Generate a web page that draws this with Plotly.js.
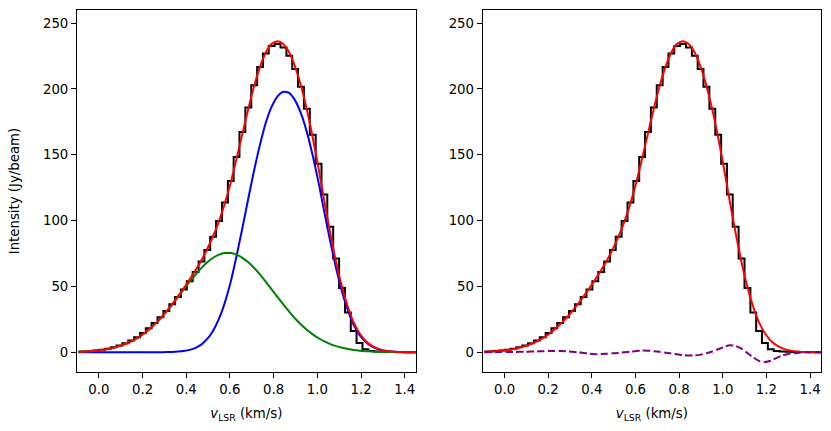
<!DOCTYPE html>
<html>
<head>
<meta charset="utf-8">
<script src="https://cdn.plot.ly/plotly-3.0.1.min.js"></script>
<style>html,body{margin:0;padding:0;background:#fff;}</style>
</head>
<body>
<div id="chart" style="width:831px;height:431px;"></div>
<script>
// Channel velocities (km/s)
var velocity = [-0.093, -0.066, -0.040, -0.013, 0.014, 0.041, 0.068, 0.094, 0.121, 0.148,
  0.175, 0.202, 0.228, 0.255, 0.282, 0.309, 0.336, 0.362, 0.389, 0.416,
  0.443, 0.470, 0.496, 0.523, 0.550, 0.577, 0.604, 0.630, 0.657, 0.684,
  0.711, 0.738, 0.764, 0.791, 0.818, 0.845, 0.872, 0.898, 0.925, 0.952,
  0.979, 1.006, 1.032, 1.059, 1.086, 1.113, 1.140, 1.166, 1.193, 1.220,
  1.247, 1.274, 1.300, 1.327, 1.354, 1.381, 1.408, 1.434, 1.461];

// Observed spectrum (Jy/beam)
var intensity = [0.38, 0.62, 0.94, 1.38, 1.95, 2.72, 3.72, 5.06, 6.75, 8.89,
  11.49, 14.60, 18.15, 22.15, 26.56, 31.31, 36.48, 41.95, 47.65, 53.89,
  61.02, 68.92, 77.66, 87.69, 99.66, 113.78, 130.19, 148.37, 167.30, 185.86,
  202.77, 216.71, 226.88, 232.66, 234.12, 231.54, 225.19, 215.23, 201.71, 184.93,
  165.23, 143.25, 119.89, 95.29, 71.21, 48.87, 30.22, 16.17, 7.00, 2.29,
  0.87, 0.53, 0.31, 0.16, 0.14, 0.12, 0.05, 0.03, 0.02];

// Total fit
var fitTotal = [0.38, 0.57, 0.84, 1.23, 1.75, 2.47, 3.42, 4.66, 6.25, 8.24,
  10.69, 13.65, 17.15, 21.20, 25.81, 30.91, 36.48, 42.45, 48.75, 55.39,
  62.42, 70.02, 78.46, 88.19, 99.66, 113.28, 129.19, 147.07, 166.10, 185.06,
  202.47, 217.01, 227.78, 234.26, 236.32, 234.04, 227.59, 217.03, 202.51, 184.33,
  162.93, 139.25, 114.59, 90.49, 68.41, 49.47, 34.22, 22.67, 14.40, 8.79,
  5.17, 2.93, 1.61, 0.86, 0.44, 0.22, 0.11, 0.05, 0.02];

// Component 1 (blue)
var component1 = [0, 0, 0, 0, 0, 0, 0, 0, 0, 0,
  0, 0, 0.01, 0.02, 0.05, 0.11, 0.23, 0.48, 0.96, 1.83,
  3.37, 5.96, 10.10, 16.41, 25.52, 37.93, 53.85, 72.95, 94.37, 116.76,
  138.48, 158.04, 174.30, 186.55, 194.44, 197.88, 196.87, 191.35, 181.39, 167.24,
  149.33, 128.60, 106.38, 84.27, 63.77, 46.06, 31.76, 20.92, 13.18, 7.95,
  4.60, 2.55, 1.36, 0.70, 0.34, 0.16, 0.07, 0.03, 0.01];

// Component 2 (green)
var component2 = [0.38, 0.57, 0.84, 1.23, 1.75, 2.47, 3.42, 4.66, 6.25, 8.24,
  10.69, 13.65, 17.14, 21.18, 25.76, 30.80, 36.25, 41.97, 47.79, 53.56,
  59.05, 64.06, 68.36, 71.78, 74.14, 75.35, 75.34, 74.12, 71.73, 68.30,
  63.99, 58.97, 53.48, 47.71, 41.88, 36.16, 30.72, 25.68, 21.12, 17.09,
  13.60, 10.65, 8.21, 6.22, 4.64, 3.41, 2.46, 1.75, 1.22, 0.84,
  0.57, 0.38, 0.25, 0.16, 0.10, 0.06, 0.04, 0.02, 0.01];

// Residual (purple dashed)
var residual = [0.00, 0.05, 0.10, 0.15, 0.20, 0.25, 0.30, 0.40, 0.50, 0.65,
  0.80, 0.95, 1.00, 0.95, 0.75, 0.40, 0.00, -0.50, -1.10, -1.50,
  -1.40, -1.10, -0.80, -0.50, 0.00, 0.50, 1.00, 1.30, 1.20, 0.80,
  0.30, -0.30, -0.90, -1.60, -2.20, -2.50, -2.40, -1.80, -0.80, 0.60,
  2.30, 4.00, 5.30, 4.80, 2.80, -0.60, -4.00, -6.50, -7.40, -6.50,
  -4.30, -2.40, -1.30, -0.70, -0.30, -0.10, -0.06, -0.02, 0.00];

var xTickVals = [0, 0.2, 0.4, 0.6, 0.8, 1.0, 1.2, 1.4];
var xTickText = ['0.0', '0.2', '0.4', '0.6', '0.8', '1.0', '1.2', '1.4'];
var yTickVals = [0, 50, 100, 150, 200, 250];
var yTickText = ['0', '50', '100', '150', '200', '250'];

var xLabel = '<i>v</i><sub>LSR</sub> (km/s)';
var yLabel = 'Intensity (Jy/beam)';

var FS = 13.3;
var LW = 2;
var traces = [
  {x: velocity, y: intensity, xaxis: 'x', yaxis: 'y', mode: 'lines', line: {shape: 'hvh', color: 'black', width: LW}},
  {x: velocity, y: component1, xaxis: 'x', yaxis: 'y', mode: 'lines', line: {shape: 'spline', smoothing: 0.6, color: '#0000ff', width: LW}},
  {x: velocity, y: component2, xaxis: 'x', yaxis: 'y', mode: 'lines', line: {shape: 'spline', smoothing: 0.6, color: '#008000', width: LW}},
  {x: velocity, y: fitTotal, xaxis: 'x', yaxis: 'y', mode: 'lines', line: {shape: 'spline', smoothing: 0.6, color: '#ff0000', width: LW}},
  {x: velocity, y: intensity, xaxis: 'x2', yaxis: 'y2', mode: 'lines', line: {shape: 'hvh', color: 'black', width: LW}},
  {x: velocity, y: fitTotal, xaxis: 'x2', yaxis: 'y2', mode: 'lines', line: {shape: 'spline', smoothing: 0.6, color: '#ff0000', width: LW}},
  {x: velocity, y: residual, xaxis: 'x2', yaxis: 'y2', mode: 'lines', line: {shape: 'spline', smoothing: 0.6, color: '#800080', width: LW, dash: '7.4px,3.2px'}}
];

function xAxis(domain, anchor) {
  return {
    domain: domain, anchor: anchor, range: [-0.1, 1.45],
    tickmode: 'array', tickvals: xTickVals, ticktext: xTickText,
    ticks: 'outside', ticklen: 5, tickwidth: 1, tickcolor: 'black',
    showline: true, linecolor: 'black', linewidth: 1, mirror: true,
    showgrid: false, zeroline: false,
    tickfont: {family: 'DejaVu Sans', size: FS, color: 'black'},
    title: {text: xLabel, font: {family: 'DejaVu Sans', size: FS, color: 'black'}, standoff: 12}
  };
}
function yAxis(anchor, withTitle) {
  var a = {
    domain: [0, 1], anchor: anchor, range: [-15, 260],
    tickmode: 'array', tickvals: yTickVals, ticktext: yTickText,
    ticks: 'outside', ticklen: 5, tickwidth: 1, tickcolor: 'black',
    showline: true, linecolor: 'black', linewidth: 1, mirror: true,
    showgrid: false, zeroline: false,
    tickfont: {family: 'DejaVu Sans', size: FS, color: 'black'}
  };
  if (withTitle) {
    a.title = {text: yLabel, font: {family: 'DejaVu Sans', size: FS, color: 'black'}, standoff: 20};
  }
  return a;
}

var layout = {
  width: 831, height: 431,
  margin: {l: 77, r: 10, t: 10, b: 59},
  paper_bgcolor: 'white', plot_bgcolor: 'white',
  font: {family: 'DejaVu Sans', size: FS, color: 'black'},
  showlegend: false,
  xaxis: xAxis([0, 0.4552], 'y'),
  yaxis: yAxis('x', true),
  xaxis2: xAxis([0.5453, 1], 'y2'),
  yaxis2: yAxis('x2', false)
};

Plotly.newPlot('chart', traces, layout, {displayModeBar: false, staticPlot: true});
</script>
</body>
</html>
